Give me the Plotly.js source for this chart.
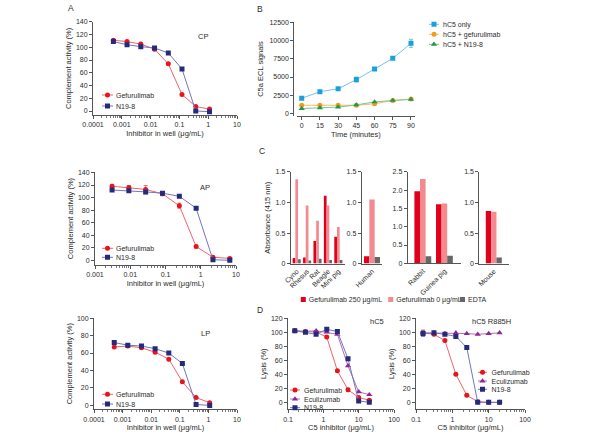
<!DOCTYPE html>
<html>
<head>
<meta charset="utf-8">
<script src="https://cdn.plot.ly/plotly-3.0.1.min.js"></script>
<style>
  html, body { margin: 0; padding: 0; background: #fff; }
  #chart { width: 600px; height: 447px; }
</style>
</head>
<body>
<div id="chart"></div>
<script>
// ---------- A: complement pathway inhibition (3-fold dilutions) ----------
const cpDose  = [0.00051, 0.00152, 0.00457, 0.0137, 0.0412, 0.123, 0.37, 1.11];
const cpGef   = [111, 109, 105, 97, 74, 26, 7, 3];
const cpN198  = [109, 104, 101, 99, 91, 66, 0, -1];

const apDose    = [0.00305, 0.00914, 0.0274, 0.082, 0.247, 0.74, 2.22, 6.67];
const apGef     = [118, 116, 113, 106, 87, 22, 5, 3];
const apGefErr  = [3, 3, 6, 3, 4, 2, 1, 1];
const apN198    = [112, 111, 109, 107, 102, 83, 1, 0];
const apN198Err = [2, 2, 3, 2, 1, 1, 1, 1];

const lpDose  = [0.00051, 0.00152, 0.00457, 0.0137, 0.0412, 0.123, 0.37, 1.11];
const lpGef   = [67, 68, 66, 61, 53, 27, 9, 3];
const lpN198  = [72, 69, 68, 65, 60, 48, 1, 0];

const logTicksA  = [0.0001, 0.001, 0.01, 0.1, 1, 10];
const logLabelsA = ['0.0001', '0.001', '0.01', '0.1', '1', '10'];
const logTicksAP  = [0.001, 0.01, 0.1, 1, 10];
const logLabelsAP = ['0.001', '0.01', '0.1', '1', '10'];

// ---------- B: C5a generation over time ----------
const minutes    = [0, 15, 30, 45, 60, 75, 90];
const c5aOnly    = [2100, 3000, 3400, 4650, 6100, 7550, 9600];
const c5aOnlyErr = [150, 150, 150, 350, 150, 150, 550];
const c5aGef     = [1150, 1150, 1150, 1150, 1350, 1800, 2000];
const c5aN198    = [700, 800, 900, 1200, 1600, 1800, 1950];

// ---------- C: haemolysis across species ----------
const speciesA = ['Cyno', 'Rhesus', 'Rat', 'Beagle', 'Mini pig'];
const absA250  = [0.09, 0.10, 0.37, 1.11, 0.44];
const absA0    = [1.38, 0.95, 0.70, 0.95, 0.60];
const absAEdta = [0.07, 0.05, 0.08, 0.06, 0.06];

const speciesB = ['Human'];
const absB250  = [0.12];
const absB0    = [1.05];
const absBEdta = [0.11];

const speciesC = ['Rabbit', 'Guinea pig'];
const absC250  = [1.97, 1.61];
const absC0    = [2.30, 1.63];
const absCEdta = [0.19, 0.21];

const speciesD = ['Mouse'];
const absD250  = [0.86];
const absD0    = [0.85];
const absDEdta = [0.10];

const absTicks15  = [0, 0.5, 1.0, 1.5];
const absLabels15 = ['0', '0.5', '1.0', '1.5'];
const absTicks25  = [0, 0.5, 1.0, 1.5, 2.0, 2.5];
const absLabels25 = ['0', '0.5', '1.0', '1.5', '2.0', '2.5'];

// ---------- D: lysis with hC5 and hC5 R885H (2-fold dilutions) ----------
const c5Dose   = [0.156, 0.3125, 0.625, 1.25, 2.5, 5, 10, 20];
const hc5Gef   = [102, 101, 100, 93, 45, 18, 7, 3];
const hc5GefErr = [1, 1, 1, 1, 1, 2, 1, 1];
const hc5Ecu   = [102, 101, 102, 100, 97, 52, 15, 11];
const hc5N198  = [102, 100, 97, 104, 101, 62, 2, 0];
const mutGef   = [99, 97, 88, 40, 10, 1, 0, 0];
const mutGefErr = [4, 1, 1, 1, 1, 1, 1, 1];
const mutEcu   = [99, 99, 98, 99, 98, 97, 98, 99];
const mutN198  = [98, 99, 97, 94, 78, 0, 0, 0];
const mutN198Err = [4, 1, 1, 1, 2, 1, 1, 1];
const logTicksD  = [0.1, 1, 10, 100];
const logLabelsD = ['0.1', '1', '10', '100'];

// ---------- styling ----------
const W = 600, H = 447;
const FONT = 'Liberation Sans, Arial, sans-serif';
const TXT = '#2b2b2b';
const AX = '#555';
const RED = '#e8141c', RED_L = '#f0646a';
const NAVY = '#262a7a', NAVY_L = '#7176bb';
const PURPLE = '#8e278f', PURPLE_L = '#b36fb6';
const CYAN = '#1c9fde', CYAN_L = '#74c4ea';
const ORANGE = '#f39a1e', ORANGE_L = '#f6bb6a';
const GREEN = '#1f9a4a', GREEN_L = '#7cc48f';
const BAR_DARK = '#e0001b', BAR_PINK = '#f38a90', BAR_GREY = '#666666';

const px = v => v / W;          // pixel column -> paper x
const py = v => 1 - v / H;      // pixel row -> paper y

// minor tick positions (2..9 x 10^d) for a log axis spanning decades lo..hi
function minorLogTicks(lo, hi) {
  const out = [];
  for (let d = lo; d < hi; d++) for (let k = 2; k <= 9; k++) out.push(k * Math.pow(10, d));
  return out;
}

function axis(extra) {
  return Object.assign({
    showline: true, linecolor: AX, linewidth: 1,
    ticks: 'outside', ticklen: 3, tickwidth: 1, tickcolor: AX,
    showgrid: false, zeroline: false,
    tickfont: { size: 7, color: TXT, family: FONT }
  }, extra);
}
function ttl(text, standoff) {
  return { text: text, font: { size: 7.5, color: TXT, family: FONT }, standoff: standoff };
}
function logAxis(dom, range, tv, tt, anchor, title) {
  return axis({
    type: 'log', domain: [px(dom[0]), px(dom[1])], range: range, anchor: anchor,
    tickmode: 'array', tickvals: tv, ticktext: tt,
    minor: { tickmode: 'array', tickvals: minorLogTicks(range[0], range[1]),
             ticks: 'outside', ticklen: 2, tickwidth: 0.8, tickcolor: AX, showgrid: false },
    title: ttl(title, 3)
  });
}
function linAxis(dom, range, dtick, anchor, title, extra) {
  return axis(Object.assign({
    domain: [py(dom[0]), py(dom[1])], range: range, anchor: anchor,
    tickmode: 'linear', tick0: 0, dtick: dtick,
    title: ttl(title, 3)
  }, extra || {}));
}

function curve(x, y, xa, ya, name, mc, lc, symbol, legend, err) {
  const t = {
    type: 'scatter', mode: 'lines+markers', x: x, y: y, xaxis: xa, yaxis: ya,
    name: name, legend: legend,
    line: { color: lc, width: 1 },
    marker: { color: mc, size: symbol === 'triangle-up' ? 5.5 : 5, symbol: symbol }
  };
  if (err) t.error_y = { type: 'data', array: err, visible: true, color: lc, thickness: 1, width: 2 };
  return t;
}
function bars(cats, vals, xa, ya, name, color, show) {
  return {
    type: 'bar', x: cats, y: vals, xaxis: xa, yaxis: ya, name: name,
    marker: { color: color, line: { width: 0 } }, legend: 'legend5', showlegend: show
  };
}

const data = [
  // A: CP
  curve(cpDose, cpGef, 'x', 'y', 'Gefurulimab', RED, RED_L, 'circle', 'legend'),
  curve(cpDose, cpN198, 'x', 'y', 'N19-8', NAVY, NAVY_L, 'square', 'legend'),
  // A: AP
  curve(apDose, apGef, 'x2', 'y2', 'Gefurulimab', RED, RED_L, 'circle', 'legend2', apGefErr),
  curve(apDose, apN198, 'x2', 'y2', 'N19-8', NAVY, NAVY_L, 'square', 'legend2', apN198Err),
  // A: LP
  curve(lpDose, lpGef, 'x3', 'y3', 'Gefurulimab', RED, RED_L, 'circle', 'legend3'),
  curve(lpDose, lpN198, 'x3', 'y3', 'N19-8', NAVY, NAVY_L, 'square', 'legend3'),
  // B
  curve(minutes, c5aOnly, 'x4', 'y4', 'hC5 only', CYAN, CYAN_L, 'square', 'legend4', c5aOnlyErr),
  curve(minutes, c5aGef, 'x4', 'y4', 'hC5 + gefurulimab', ORANGE, ORANGE_L, 'circle', 'legend4'),
  curve(minutes, c5aN198, 'x4', 'y4', 'hC5 + N19-8', GREEN, GREEN_L, 'triangle-up', 'legend4'),
  // C
  bars(speciesA, absA250, 'x5', 'y5', 'Gefurulimab 250 μg/mL', BAR_DARK, true),
  bars(speciesA, absA0, 'x5', 'y5', 'Gefurulimab 0 μg/mL', BAR_PINK, true),
  bars(speciesA, absAEdta, 'x5', 'y5', 'EDTA', BAR_GREY, true),
  bars(speciesB, absB250, 'x6', 'y6', 'Gefurulimab 250 μg/mL', BAR_DARK, false),
  bars(speciesB, absB0, 'x6', 'y6', 'Gefurulimab 0 μg/mL', BAR_PINK, false),
  bars(speciesB, absBEdta, 'x6', 'y6', 'EDTA', BAR_GREY, false),
  bars(speciesC, absC250, 'x7', 'y7', 'Gefurulimab 250 μg/mL', BAR_DARK, false),
  bars(speciesC, absC0, 'x7', 'y7', 'Gefurulimab 0 μg/mL', BAR_PINK, false),
  bars(speciesC, absCEdta, 'x7', 'y7', 'EDTA', BAR_GREY, false),
  bars(speciesD, absD250, 'x8', 'y8', 'Gefurulimab 250 μg/mL', BAR_DARK, false),
  bars(speciesD, absD0, 'x8', 'y8', 'Gefurulimab 0 μg/mL', BAR_PINK, false),
  bars(speciesD, absDEdta, 'x8', 'y8', 'EDTA', BAR_GREY, false),
  // D: hC5
  curve(c5Dose, hc5Gef, 'x9', 'y9', 'Gefurulimab', RED, RED_L, 'circle', 'legend6', hc5GefErr),
  curve(c5Dose, hc5Ecu, 'x9', 'y9', 'Eculizumab', PURPLE, PURPLE_L, 'triangle-up', 'legend6'),
  curve(c5Dose, hc5N198, 'x9', 'y9', 'N19-8', NAVY, NAVY_L, 'square', 'legend6'),
  // D: hC5 R885H
  curve(c5Dose, mutGef, 'x10', 'y10', 'Gefurulimab', RED, RED_L, 'circle', 'legend7', mutGefErr),
  curve(c5Dose, mutEcu, 'x10', 'y10', 'Eculizumab', PURPLE, PURPLE_L, 'triangle-up', 'legend7'),
  curve(c5Dose, mutN198, 'x10', 'y10', 'N19-8', NAVY, NAVY_L, 'square', 'legend7', mutN198Err)
];

function legendBox(xPix, yPix) {
  return { x: px(xPix), y: py(yPix), xanchor: 'left', yanchor: 'top',
           bgcolor: 'rgba(0,0,0,0)', borderwidth: 0,
           font: { size: 7, color: TXT, family: FONT } };
}

function label(text, xPix, yPix, size, anchor) {
  return { text: text, xref: 'paper', yref: 'paper', x: px(xPix), y: py(yPix),
           xanchor: anchor || 'left', yanchor: 'middle', showarrow: false,
           font: { size: size, color: TXT, family: FONT } };
}

const layout = {
  width: W, height: H,
  margin: { l: 0, r: 0, t: 0, b: 0 },
  paper_bgcolor: '#fff', plot_bgcolor: 'rgba(0,0,0,0)',
  font: { family: FONT, color: TXT },
  barmode: 'group', bargap: 0.22, bargroupgap: 0,
  showlegend: true,

  // A: CP
  xaxis:  logAxis([93, 237], [-4, 1], logTicksA, logLabelsA, 'y', 'Inhibitor in well (μg/mL)'),
  yaxis:  linAxis([116, 22], [-6.2, 140], 20, 'x', 'Complement activity (%)'),
  // A: AP
  xaxis2: logAxis([95, 236], [-3, 1], logTicksAP, logLabelsAP, 'y2', 'Inhibitor in well (μg/mL)'),
  yaxis2: linAxis([267, 174], [-6.8, 140], 20, 'x2', 'Complement activity (%)'),
  // A: LP
  xaxis3: logAxis([94, 237], [-4, 1], logTicksA, logLabelsA, 'y3', 'Inhibitor in well (μg/mL)'),
  yaxis3: linAxis([413, 321], [-4.5, 100], 20, 'x3', 'Complement activity (%)'),
  // B
  xaxis4: axis({ domain: [px(296.7), px(415)], range: [-4.12, 93.3], anchor: 'y4',
                 tickmode: 'linear', tick0: 0, dtick: 15, title: ttl('Time (minutes)', 3) }),
  yaxis4: linAxis([117, 22.3], [-311, 12500], 2500, 'free', 'C5a ECL signals',
                  { position: px(293.3), tickformat: 'd' }),
  // C
  xaxis5: axis({ domain: [px(290.7), px(345)], range: [-0.577, 4.64], anchor: 'y5',
                 type: 'category', ticks: '', tickangle: -45 }),
  yaxis5: linAxis([266, 173.5], [0, 1.5], 0.5, 'x5', 'Absorbance (415 nm)',
                  { tickmode: 'array', tickvals: absTicks15, ticktext: absLabels15 }),
  xaxis6: axis({ domain: [px(361.7), px(381.7)], range: [-0.502, 0.473], anchor: 'y6',
                 type: 'category', ticks: '', tickangle: -45 }),
  yaxis6: linAxis([266, 173.5], [0, 1.5], 0.5, 'x6', '',
                  { tickmode: 'array', tickvals: absTicks15, ticktext: absLabels15 }),
  xaxis7: axis({ domain: [px(407.7), px(460.6)], range: [-0.7, 1.75], anchor: 'y7',
                 type: 'category', ticks: '', tickangle: -45 }),
  yaxis7: linAxis([265.7, 173.3], [0, 2.5], 0.5, 'x7', '',
                  { tickmode: 'array', tickvals: absTicks25, ticktext: absLabels25 }),
  xaxis8: axis({ domain: [px(479.3), px(509)], range: [-0.707, 0.742], anchor: 'y8',
                 type: 'category', ticks: '', tickangle: -45 }),
  yaxis8: linAxis([266, 173.5], [0, 1.5], 0.5, 'x8', '',
                  { tickmode: 'array', tickvals: absTicks15, ticktext: absLabels15 }),
  // D
  xaxis9:  logAxis([288, 394], [-1, 2], logTicksD, logLabelsD, 'y9', 'C5 inhibitor (μg/mL)'),
  yaxis9:  linAxis([413, 321], [-9.9, 120], 20, 'x9', 'Lysis (%)'),
  xaxis10: logAxis([416, 525], [-1, 2], logTicksD, logLabelsD, 'y10', 'C5 inhibitor (μg/mL)'),
  yaxis10: linAxis([413, 321], [-9.9, 120], 20, 'x10', 'Lysis (%)'),

  legend:  legendBox(100, 88),
  legend2: legendBox(100, 241),
  legend3: legendBox(100, 387),
  legend4: legendBox(427, 17),
  legend5: Object.assign(legendBox(298, 292), { orientation: 'h' }),
  legend6: legendBox(288, 383),
  legend7: legendBox(476, 365),

  annotations: [
    label('A', 66, 8, 8.5), label('B', 255, 9, 8.5),
    label('C', 257, 152, 8.5), label('D', 255, 313, 8.5),
    label('CP', 203, 37, 7.5, 'center'), label('AP', 205, 189, 7.5, 'center'),
    label('LP', 205, 337, 7.5, 'center'),
    label('hC5', 377, 324, 7.5, 'center'), label('hC5 R885H', 492, 324, 7.5, 'center')
  ]
};

// Compact legend keys: short line segments, tight row spacing, explicit rows.
const legendRows = {
  legend:  { rows: [[102, 95], [102, 106]], len: 11, gap: 3 },
  legend2: { rows: [[102, 248.3], [102, 257.3]], len: 11, gap: 3 },
  legend3: { rows: [[102, 394.3], [102, 404]], len: 11, gap: 3 },
  legend4: { rows: [[429, 24.3], [429, 34.3], [429, 44.3]], len: 10, gap: 4 },
  legend5: { rows: [[300.8, 299.5], [388.2, 299.5], [460, 299.5]], len: 5, gap: 3, box: true },
  legend6: { rows: [[290, 390], [290, 399], [290, 407.7]], len: 10, gap: 4 },
  legend7: { rows: [[478, 372.3], [478, 381], [478, 389.3]], len: 9, gap: 4.5 }
};

function tidyLegends() {
  Object.keys(legendRows).forEach(id => {
    const spec = legendRows[id];
    const grp = document.querySelector('g.' + id);
    if (!grp) return;
    const items = grp.querySelectorAll('g.traces');
    items.forEach((item, i) => {
      const row = spec.rows[i];
      if (!row) return;
      const m = item.parentNode.getCTM();
      item.setAttribute('transform', 'translate(' + (row[0] - m.e) + ',' + (row[1] - m.f) + ')');
      item.querySelectorAll('.legendlines path').forEach(p => p.setAttribute('d', 'M0,0h' + spec.len));
      item.querySelectorAll('.legendpoints path').forEach(p => {
        p.setAttribute('transform', 'translate(' + (spec.len / 2) + ',0)');
        if (spec.box) {
          const h = spec.len / 2;
          p.setAttribute('d', 'M' + h + ',' + h + 'H-' + h + 'V-' + h + 'H' + h + 'Z');
        }
      });
      const tx = spec.len + spec.gap;
      item.querySelectorAll('text').forEach(t => {
        t.setAttribute('x', tx);
        t.setAttribute('text-anchor', 'start');
        t.querySelectorAll('tspan').forEach(s => { if (s.hasAttribute('x')) s.setAttribute('x', tx); });
      });
    });
  });
}

Plotly.newPlot('chart', data, layout, { staticPlot: true, displayModeBar: false })
  .then(tidyLegends);
</script>
</body>
</html>
